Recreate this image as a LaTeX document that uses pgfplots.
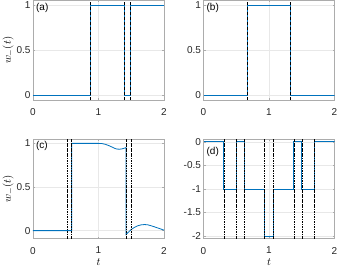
\documentclass[border=0pt]{standalone}
\usepackage{fontspec}
\setmainfont{Liberation Sans}
\usepackage{pgfplots}
\pgfplotsset{compat=1.18}
\definecolor{mblue}{rgb}{0,0.447,0.741}
\begin{document}
\fontsize{10}{11}\selectfont
\begin{tikzpicture}
\path[use as bounding box] (0pt,0pt) rectangle (339pt,268pt);
\pgfplotsset{
  panel/.style={
    scale only axis, width=131pt, height=99.5pt, anchor=south west,
    xmin=0, xmax=2, xtick={0,1,2},
    grid=major, major grid style={gray!18, line width=0.4pt},
    axis line style={gray!65, line width=0.5pt},
    tick style={gray!65, line width=0.5pt}, tick align=inside, major tick length=2pt,
    tick label style={font=\fontsize{10}{11}\selectfont, text=black!85},
    /pgf/number format/assume math mode=true,
    xticklabel style={yshift=-5pt},
    yticklabel style={xshift=1pt},
    ylabel style={at={(axis description cs:-0.19,0.5)}, anchor=center, rotate=0, font=\fontsize{11}{12}\selectfont},
    xlabel style={at={(axis description cs:0.5,-0.24)}, anchor=center, font=\fontsize{11}{12}\selectfont},
    clip=true,
  },
  sig/.style={mblue, line width=0.8pt, const plot},
  vl/.style={black, line width=0.5pt, densely dashed},
  vld/.style={black, line width=0.5pt, dash pattern=on 2.5pt off 1pt on 0.6pt off 1pt},
}
% (a)
\begin{axis}[panel, at={(33pt,168pt)}, ymin=-0.05, ymax=1.05, ytick={0,0.5,1},
  ylabel={$w_-(t)$}]
\addplot[sig] coordinates {(0,0) (0.88,1) (1.39,0) (1.49,1) (2,1)};
\addplot[vl] coordinates {(0.88,-0.05) (0.88,1.05)};
\addplot[vl] coordinates {(1.39,-0.05) (1.39,1.05)};
\addplot[vl] coordinates {(1.49,-0.05) (1.49,1.05)};
\node[anchor=north west, inner sep=1pt] at (axis description cs:0.015,0.985) {(a)};
\end{axis}
% (b)
\begin{axis}[panel, at={(203.5pt,168pt)}, ymin=-0.05, ymax=1.05, ytick={0,0.5,1}]
\addplot[sig] coordinates {(0,0) (0.67,1) (1.33,0) (2,0)};
\addplot[vl] coordinates {(0.67,-0.05) (0.67,1.05)};
\addplot[vl] coordinates {(1.33,-0.05) (1.33,1.05)};
\node[anchor=north west, inner sep=1pt] at (axis description cs:0.015,0.985) {(b)};
\end{axis}
% (c)
\begin{axis}[panel, at={(33pt,29.5pt)}, ymin=-0.09, ymax=1.05, ytick={0,0.5,1},
  ylabel={$w_-(t)$}, xlabel={$t$}]
\addplot[mblue, line width=0.8pt] coordinates {(0,0) (0.59,0) (0.59,1) (1.0,1) (1.05,0.998) (1.1,0.99)
  (1.15,0.977) (1.2,0.96) (1.25,0.942) (1.28,0.935) (1.32,0.933) (1.36,0.937) (1.4,0.946) (1.42,0.952)
  (1.42,-0.045) (1.45,-0.022) (1.5,0.013) (1.55,0.038) (1.6,0.056) (1.65,0.066) (1.7,0.07)
  (1.75,0.067) (1.8,0.057) (1.85,0.045) (1.9,0.032) (1.95,0.019) (2.0,0.006)};
\addplot[vld] coordinates {(0.52,-0.09) (0.52,1.05)};
\addplot[vld] coordinates {(0.59,-0.09) (0.59,1.05)};
\addplot[vld] coordinates {(1.42,-0.09) (1.42,1.05)};
\addplot[vld] coordinates {(1.50,-0.09) (1.50,1.05)};
\node[anchor=north west, inner sep=1pt] at (axis description cs:0.015,0.985) {(c)};
\end{axis}
% (d)
\begin{axis}[panel, at={(203.5pt,29.5pt)}, ymin=-2.05, ymax=0.06, ytick={-2,-1.5,-1,-0.5,0},
  xlabel={$t$}]
\addplot[sig] coordinates {(0,0) (0.31,-1) (0.50,0) (0.62,-1) (0.93,-2) (1.07,-1) (1.38,0) (1.50,-1) (1.69,0) (2,0)};
\addplot[vld] coordinates {(0.31,-2.05) (0.31,0.06)};
\addplot[vld] coordinates {(0.50,-2.05) (0.50,0.06)};
\addplot[vld] coordinates {(0.62,-2.05) (0.62,0.06)};
\addplot[vld] coordinates {(0.93,-2.05) (0.93,0.06)};
\addplot[vld] coordinates {(1.07,-2.05) (1.07,0.06)};
\addplot[vld] coordinates {(1.38,-2.05) (1.38,0.06)};
\addplot[vld] coordinates {(1.50,-2.05) (1.50,0.06)};
\addplot[vld] coordinates {(1.69,-2.05) (1.69,0.06)};
\node[anchor=north west, inner sep=1pt] at (axis description cs:0.015,0.93) {(d)};
\end{axis}
\end{tikzpicture}
\end{document}
